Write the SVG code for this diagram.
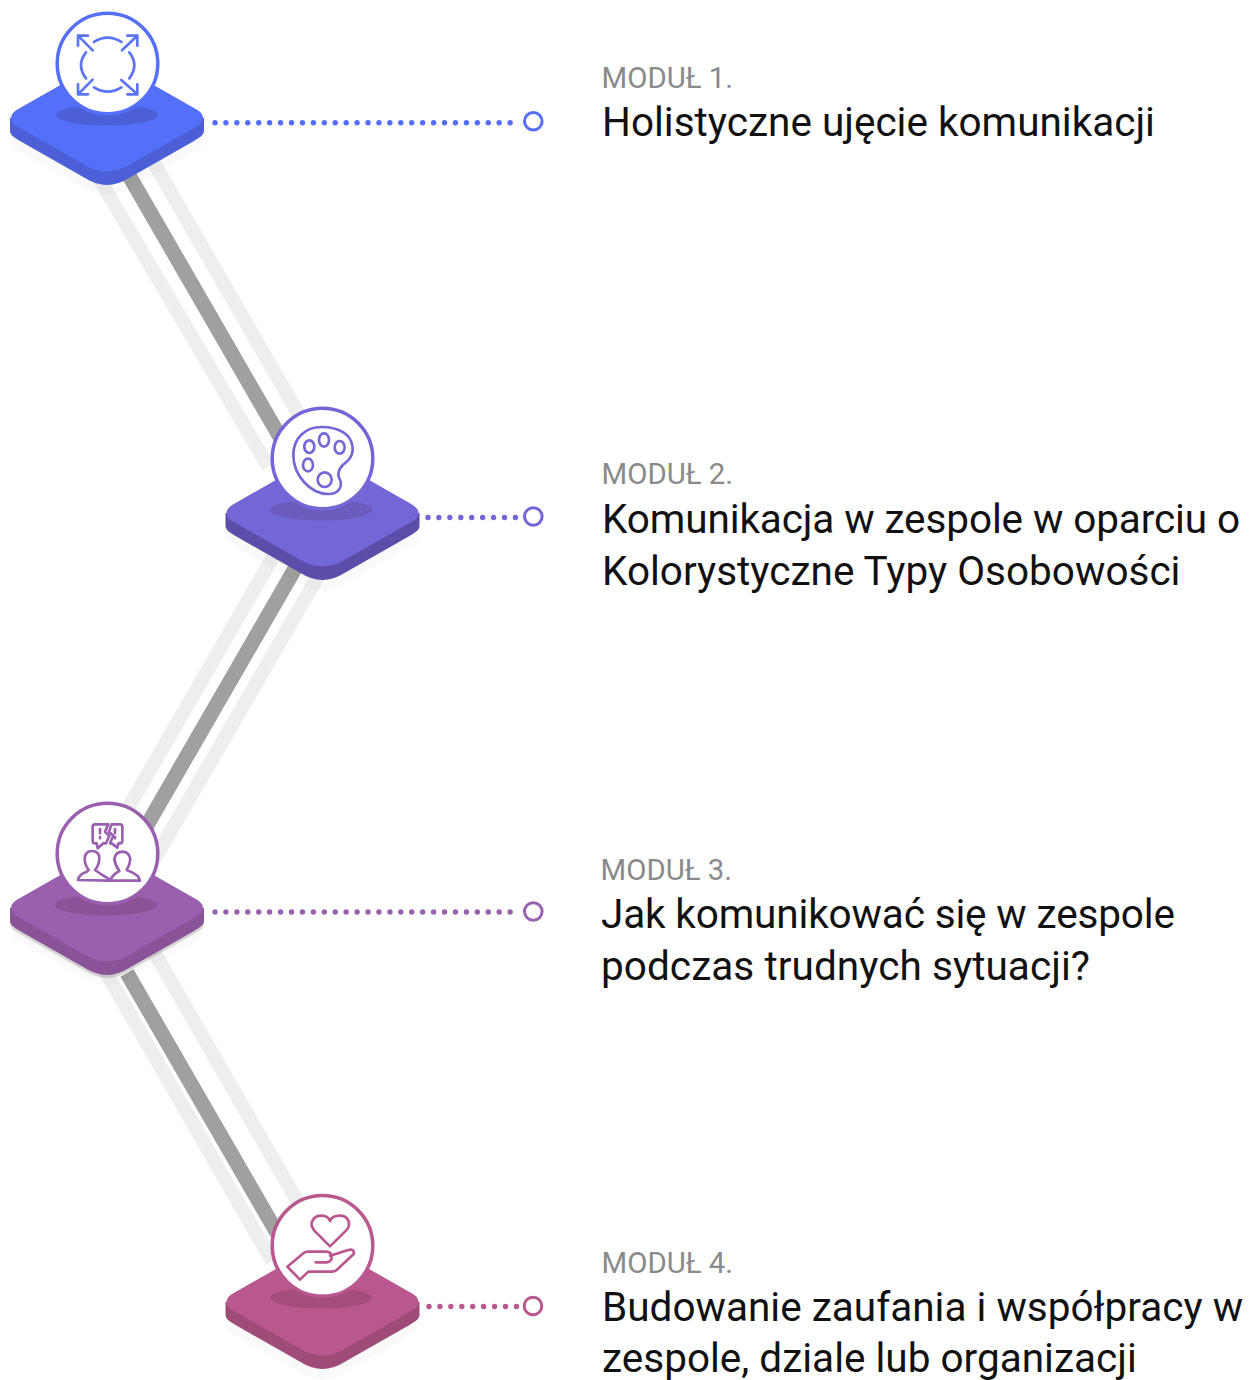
<svg xmlns="http://www.w3.org/2000/svg" width="1250" height="1380" viewBox="0 0 1250 1380">
<defs>
<style>
text{font-family:Roboto,"Liberation Sans",sans-serif}
.m{font-size:29.4px;fill:#8a8a8a;font-weight:400}
.t{font-size:40.5px;fill:#111}
.g{stroke:#a0a0a0;stroke-width:15;fill:none}
.l{stroke:#eeeeee;stroke-width:14;fill:none}
.d{stroke-width:5.400;stroke-linecap:round;stroke-dasharray:0 10.93;fill:none}
.ic{fill:none;stroke-width:8;stroke-linejoin:round;stroke-linecap:round;filter:url(#soft)}
.shadow{fill:#000;opacity:.02}
</style>
<filter id="soft" x="-5%" y="-5%" width="110%" height="110%"><feGaussianBlur stdDeviation="1"/></filter>
<path id="top" d="M-87-10L-22-47Q0-60 22-47L87-10C99-4 99 4 87 10L22 47Q0 60-22 47L-87 10C-99 4-99-4-87-10Z"/>
<path id="side" d="M-97 0V13C-97 17-92 20-87 23L-22 60Q0 74 22 60L87 23C92 20 97 17 97 13V0Z"/>
</defs>
<rect width="1250" height="1380" fill="#fff"/>
<g id="connectors">
<path class="l" d="M94 170L268.500 467M150 156L302 420"/>
<path class="g" d="M127 172L280 437"/>
<path class="l" d="M284 538L112 836M324 566L154 860"/>
<path class="g" d="M296.500 566L146.500 826"/>
<path class="l" d="M96 955L272 1261M150 945L310 1223"/>
<path class="g" d="M127 973L280 1238"/>
<path class="d" stroke="#536dfe" d="M215 122.700H512"/>
<path class="d" stroke="#7367d8" d="M428 517.500H516"/>
<path class="d" stroke="#9b5fb0" d="M215 912H512"/>
<path class="d" stroke="#b9578f" d="M429 1306.500H517"/>
</g>
<g id="node1">
<g transform="translate(107 118)"><use href="#top" y="24" class="shadow"/><use href="#side" fill="#4d5fd6"/><use href="#top" fill="#5570f8"/><ellipse cy="-3" rx="51" ry="10.500" fill="#4d5fd6"/></g>
<circle cx="107.500" cy="63.500" r="50.300" fill="#fff" stroke="#5570f8" stroke-width="3.500"/>
<g transform="scale(.3333)" class="ic" stroke="#5c74f5">
<path d="M234 137V107H264M234 107L278 151M412 137V107H382M412 107L366 151M234 253V283H264M234 283L278 239M412 253V283H382M412 283L364 240"/>
<path d="M282 126Q323 100 364 126M258 157Q228 195 258 235M388 157Q418 195 388 235M282 262Q323 288 364 262"/>
</g>
<circle cx="533.300" cy="121.300" r="8.800" fill="#fff" stroke="#5570f8" stroke-width="3"/>
<text class="m" x="601.500" y="88">MODUŁ 1.</text>
<text class="t" x="602" y="136">Holistyczne ujęcie komunikacji</text>
</g>
<g id="node2">
<g transform="translate(322.500 513)"><use href="#top" y="24" class="shadow"/><use href="#side" fill="#5c4ea8"/><use href="#top" fill="#7367d8"/><ellipse cx="-1.500" cy="-3" rx="51" ry="10.500" fill="#6a5cbc"/></g>
<circle cx="322.500" cy="458.500" r="50.300" fill="#fff" stroke="#7367d8" stroke-width="3.500"/>
<g transform="translate(215 395) scale(.3333)" class="ic" stroke="#7367d8">
<path d="M320 96C270 96 235 130 235 180C235 240 285 297 340 297C375 297 385 270 372 248C365 230 375 215 395 200C425 175 415 130 385 112C365 100 340 96 320 96Z"/>
<ellipse cx="283" cy="155" rx="15" ry="19"/><ellipse cx="327" cy="135" rx="15" ry="20"/><ellipse cx="374" cy="157" rx="15" ry="19"/><ellipse cx="279" cy="210" rx="15" ry="19"/><ellipse cx="329" cy="254" rx="21" ry="22"/>
</g>
<circle cx="533.300" cy="516.500" r="8.800" fill="#fff" stroke="#7367d8" stroke-width="3"/>
<text class="m" x="601.500" y="484">MODUŁ 2.</text>
<text class="t" x="602" y="533" textLength="638">Komunikacja w zespole w oparciu o</text>
<text class="t" x="602" y="585">Kolorystyczne Typy Osobowości</text>
</g>
<g id="node3">
<g transform="translate(107 908)"><use href="#top" y="24" class="shadow"/><use href="#side" y="3" fill="#000" opacity=".15"/><use href="#side" fill="#8a5398"/><use href="#top" fill="#9b5fb0"/><ellipse cx="-1" cy="-3" rx="51" ry="10.500" fill="#8a5398"/></g>
<circle cx="107.500" cy="853.500" r="50.300" fill="#fff" stroke="#9b5fb0" stroke-width="3.500"/>
<g transform="translate(70 815) scale(.3333)" class="ic" stroke="#9b5fb0">
<path d="M108 85H100L83 100L80 85H75Q68 85 68 78V35Q68 28 75 28H115L105 50L118 62L108 85"/>
<path d="M125 28H150Q157 28 157 35V78Q157 85 150 85H145L142 98L125 85H120L130 62L117 50L125 28"/>
<path d="M90 42V55M90 66V70M135 42V55M135 66V70"/>
<path d="M24 195Q26 178 50 170L56 165Q44 150 44 130Q46 108 65 108Q88 108 88 130Q88 150 75 165Q85 172 100 182Q118 190 120 197Z"/>
<path d="M120 197Q128 178 148 168Q135 150 133 132Q137 110 158 110Q178 112 181 132Q180 150 170 165Q195 175 205 185L210 197Z"/>
</g>
<circle cx="533.300" cy="911.500" r="8.800" fill="#fff" stroke="#9b5fb0" stroke-width="3"/>
<text class="m" x="600.500" y="880">MODUŁ 3.</text>
<text class="t" x="601" y="928" textLength="574">Jak komunikować się w zespole</text>
<text class="t" x="601" y="980" textLength="489">podczas trudnych sytuacji?</text>
</g>
<g id="node4">
<g transform="translate(322.500 1302)"><use href="#top" y="24" class="shadow"/><use href="#side" fill="#9f4b78"/><use href="#top" fill="#b9578f"/><ellipse cx="-1.500" cy="-4" rx="51" ry="10.500" fill="#a44c7e"/></g>
<circle cx="322.500" cy="1245.800" r="50.300" fill="#fff" stroke="#b9578f" stroke-width="3.500"/>
<g transform="translate(280 1205) scale(.3333)" class="ic" stroke="#b9578f">
<path d="M150 124L103 77C85 55 100 32 125 32C137 32 146 38 150 48C154 38 165 32 180 32C205 32 216 58 198 77Z"/>
<path d="M107 172H140Q155 170 155 156Q155 142 140 140H85Q76 140 70 145L22 185L60 224L85 200H155Q164 200 170 195L222 146Q222 130 205 135L150 152"/>
</g>
<circle cx="533" cy="1306" r="8.800" fill="#fff" stroke="#b9578f" stroke-width="3"/>
<text class="m" x="601.500" y="1273">MODUŁ 4.</text>
<text class="t" x="602" y="1321">Budowanie zaufania i współpracy w</text>
<text class="t" x="602" y="1372">zespole, dziale lub organizacji</text>
</g>
</svg>
